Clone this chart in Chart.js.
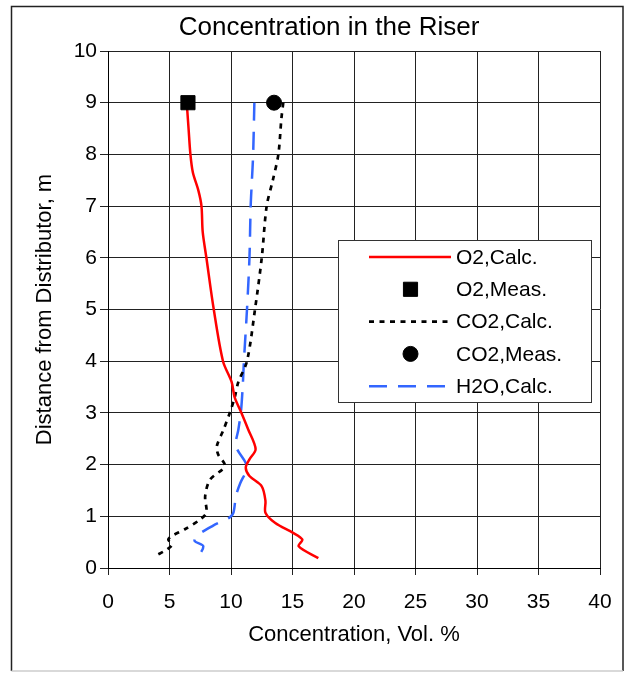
<!DOCTYPE html>
<html>
<head>
<meta charset="utf-8">
<script src="https://cdn.jsdelivr.net/npm/chart.js@4.4.1/dist/chart.umd.min.js"></script>
<style>
  html, body { margin: 0; padding: 0; background: #fff; }
  #wrap { position: relative; width: 636px; height: 673px; }
</style>
</head>
<body>
<div id="wrap"><canvas id="riserChart" width="636" height="673"></canvas></div>
<script>
// Concentration profiles along the riser height
const o2CalcConc   = [6.4, 6.55, 6.7, 6.9, 7.35, 7.6, 7.7, 8.0, 8.6, 9.35, 10.05, 10.3, 10.85, 11.4, 12.0, 11.5, 11.2, 11.5, 12.5, 12.8, 12.8, 13.6, 15.05, 15.8, 15.5, 17.1];
const o2CalcHeight = [9.0, 8.5, 8.0, 7.65, 7.3, 7.0, 6.5, 6.0, 5.0, 4.0, 3.6, 3.3, 3.0, 2.68, 2.3, 2.1, 1.94, 1.78, 1.58, 1.3, 1.07, 0.87, 0.68, 0.55, 0.42, 0.19];

const o2MeasConc   = [6.5];
const o2MeasHeight = [9.0];

const co2CalcConc   = [14.25, 14.1, 13.85, 13.4, 12.9, 12.5, 11.95, 11.3, 10.6, 10.3, 9.9, 9.4, 8.85, 8.95, 9.5, 8.3, 7.9, 8.0, 7.5, 6.25, 5.2, 4.9, 5.2, 4.8, 3.9];
const co2CalcHeight = [9.0, 8.7, 8.0, 7.5, 7.0, 6.0, 5.0, 4.0, 3.6, 3.3, 3.0, 2.68, 2.36, 2.2, 1.97, 1.71, 1.39, 1.07, 0.94, 0.75, 0.62, 0.55, 0.45, 0.36, 0.24];

const co2MeasConc   = [13.5];
const co2MeasHeight = [9.0];

const h2oCalcConc   = [11.9, 11.8, 11.7, 11.6, 11.5, 11.3, 11.05, 10.95, 10.8, 10.6, 10.4, 11.2, 11.27, 10.75, 10.4, 10.2, 9.9, 8.55, 7.2, 7.05, 7.75, 7.2];
const h2oCalcHeight = [9.0, 8.0, 7.5, 7.0, 6.0, 5.0, 4.0, 3.5, 3.0, 2.68, 2.36, 2.03, 1.9, 1.64, 1.39, 1.07, 0.98, 0.82, 0.62, 0.52, 0.42, 0.17];

const concTicks   = [0, 5, 10, 15, 20, 25, 30, 35, 40];
const heightTicks = [0, 1, 2, 3, 4, 5, 6, 7, 8, 9, 10];

const FONT = '"Liberation Sans", Arial, sans-serif';
Chart.defaults.font.family = FONT;
Chart.defaults.color = '#000';

function toPoints(xs, ys) {
    return xs.map((x, i) => ({ x: x, y: ys[i] }));
}

// Chart title, drawn a bit left of the plot centre
const titlePlugin = {
    id: 'riserTitle',
    afterDraw(chart) {
        const ctx = chart.ctx;
        ctx.save();
        ctx.fillStyle = '#000';
        ctx.font = '26px ' + FONT;
        ctx.textAlign = 'center';
        ctx.textBaseline = 'middle';
        ctx.fillText('Concentration in the Riser', 329, 28);
        ctx.restore();
    }
};

// Outer frame around the whole chart
const framePlugin = {
    id: 'frame',
    afterDraw(chart) {
        const ctx = chart.ctx;
        ctx.save();
        ctx.lineWidth = 1.5;
        ctx.strokeStyle = '#222';
        ctx.beginPath();
        ctx.moveTo(11.5, 671);
        ctx.lineTo(11.5, 6.5);
        ctx.lineTo(623, 6.5);
        ctx.lineTo(623, 671);
        ctx.stroke();
        ctx.strokeStyle = '#ccc';
        ctx.beginPath();
        ctx.moveTo(11.5, 671);
        ctx.lineTo(623, 671);
        ctx.stroke();
        ctx.restore();
    }
};

// Boxed legend sitting inside the plot area
const boxLegend = {
    id: 'boxLegend',
    afterDraw(chart) {
        const ctx = chart.ctx;
        const box = { left: 338.5, top: 240.5, width: 253, height: 162 };
        ctx.save();
        ctx.fillStyle = '#fff';
        ctx.fillRect(box.left, box.top, box.width, box.height);
        ctx.strokeStyle = '#333';
        ctx.lineWidth = 1;
        ctx.strokeRect(box.left, box.top, box.width, box.height);

        chart.data.datasets.forEach((ds, i) => {
            const y = 257 + i * 32.3;
            if (ds.showLine) {
                ctx.save();
                ctx.strokeStyle = ds.borderColor;
                ctx.lineWidth = ds.borderWidth;
                ctx.setLineDash(ds.borderDash || []);
                ctx.beginPath();
                ctx.moveTo(369, y);
                ctx.lineTo(451, y);
                ctx.stroke();
                ctx.restore();
            } else {
                ctx.save();
                ctx.fillStyle = ds.backgroundColor;
                ctx.strokeStyle = ds.borderColor;
                Chart.helpers.drawPoint(ctx, {
                    pointStyle: ds.pointStyle,
                    radius: ds.pointRadius,
                    borderWidth: ds.pointBorderWidth,
                    rotation: 0
                }, 410.5, y);
                ctx.restore();
            }
            ctx.fillStyle = '#000';
            ctx.font = '21px ' + FONT;
            ctx.textAlign = 'left';
            ctx.textBaseline = 'middle';
            ctx.fillText(ds.label, 456, y + 1);
        });
        ctx.restore();
    }
};

const ctx = document.getElementById('riserChart').getContext('2d');
const riserChart = new Chart(ctx, {
    type: 'scatter',
    data: {
        datasets: [
            {
                label: 'O2,Calc.',
                data: toPoints(o2CalcConc, o2CalcHeight),
                showLine: true,
                borderColor: '#ff0000',
                borderWidth: 2.5,
                pointRadius: 0,
                tension: 0.3,
                order: 1,
            },
            {
                label: 'O2,Meas.',
                data: toPoints(o2MeasConc, o2MeasHeight),
                showLine: false,
                pointStyle: 'rect',
                pointRadius: 10,
                pointBorderWidth: 1,
                backgroundColor: '#000',
                borderColor: '#000',
                order: 0,
            },
            {
                label: 'CO2,Calc.',
                data: toPoints(co2CalcConc, co2CalcHeight),
                showLine: true,
                borderColor: '#000',
                borderWidth: 2.7,
                borderDash: [5, 5.5],
                pointRadius: 0,
                tension: 0.3,
                order: 1,
            },
            {
                label: 'CO2,Meas.',
                data: toPoints(co2MeasConc, co2MeasHeight),
                showLine: false,
                pointStyle: 'circle',
                pointRadius: 7.5,
                pointBorderWidth: 1,
                backgroundColor: '#000',
                borderColor: '#000',
                order: 0,
            },
            {
                label: 'H2O,Calc.',
                data: toPoints(h2oCalcConc, h2oCalcHeight),
                showLine: true,
                borderColor: '#3366ff',
                borderWidth: 2.5,
                borderDash: [18, 11],
                pointRadius: 0,
                tension: 0.3,
                order: 1,
            },
        ],
    },
    options: {
        responsive: false,
        animation: false,
        devicePixelRatio: 1,
        layout: {
            padding: { top: 51, right: 36, left: 0, bottom: 0 },
        },
        plugins: {
            legend: { display: false },
            tooltip: { enabled: false },
            title: { display: false },
        },
        scales: {
            x: {
                type: 'linear',
                min: 0,
                max: 40,
                afterBuildTicks: (scale) => {
                    scale.ticks = concTicks.map((v) => ({ value: v }));
                },
                afterFit: (scale) => {
                    scale.height = 105;
                },
                grid: {
                    color: '#222',
                    lineWidth: 1,
                    tickLength: 7,
                },
                border: { color: '#000', width: 1 },
                ticks: {
                    color: '#000',
                    font: { size: 21 },
                    padding: 15,
                    maxRotation: 0,
                },
                title: {
                    display: true,
                    text: 'Concentration, Vol. %',
                    color: '#000',
                    font: { size: 22 },
                    padding: { top: 0, bottom: 25 },
                },
            },
            y: {
                type: 'linear',
                min: 0,
                max: 10,
                afterBuildTicks: (scale) => {
                    scale.ticks = heightTicks.map((v) => ({ value: v }));
                },
                afterFit: (scale) => {
                    scale.width = 108;
                },
                grid: {
                    color: '#222',
                    lineWidth: 1,
                    tickLength: 8,
                },
                border: { color: '#000', width: 1 },
                ticks: {
                    color: '#000',
                    font: { size: 21 },
                    padding: 3,
                },
                title: {
                    display: true,
                    text: 'Distance from Distributor, m',
                    color: '#000',
                    font: { size: 22 },
                    padding: { top: 32, bottom: 0 },
                },
            },
        },
    },
    plugins: [titlePlugin, framePlugin, boxLegend],
});
</script>
</body>
</html>
